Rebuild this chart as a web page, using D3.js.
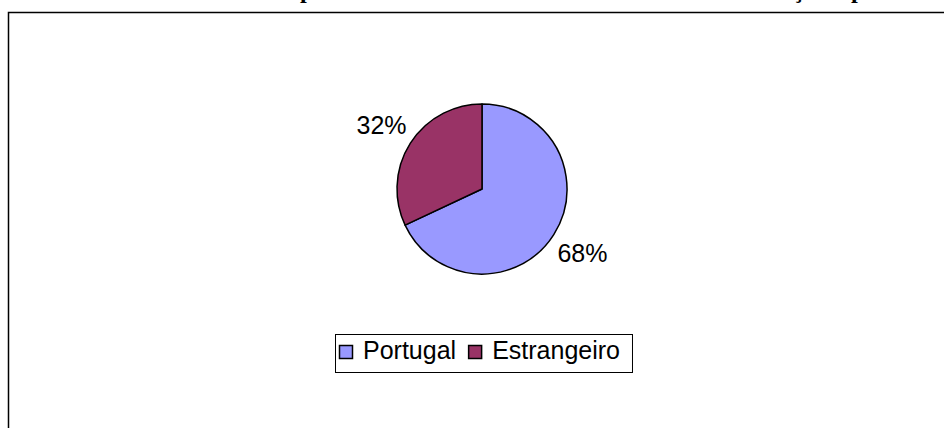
<!DOCTYPE html>
<html>
<head>
<meta charset="utf-8">
<title>Portugal / Estrangeiro</title>
<script src="https://cdn.jsdelivr.net/npm/d3@7"></script>
<style>
  body { margin: 0; background: #fff; }
  svg { display: block; }
  .title { font-family: "Liberation Serif", "Times New Roman", serif; font-weight: bold; }
  .lbl, .legend text { font-family: "Liberation Sans", Arial, sans-serif; font-size: 25px; fill: #000; }
</style>
</head>
<body>
<div id="chart"></div>
<script>
var categories = ['Portugal', 'Estrangeiro'];
var values = [68, 32];
var colors = ['#9999FF', '#993366'];
var titleText = 'Gráfico 4 – Alunos inscritos por local de residência habitual à data da inscrição e país';

var width = 944, height = 428;
var cx = 482, cy = 189, radius = 85;

var svg = d3.select('#chart').append('svg')
    .attr('width', width)
    .attr('height', height);

// clipped title (only the descenders show at the top edge)
var title = svg.append('text')
    .attr('class', 'title')
    .style('font-size', '17px')
    .text(titleText);
var node = title.node();
var iP = titleText.indexOf('por'), iC = titleText.indexOf('ç');
var d0 = node.getSubStringLength(0, iC) - node.getSubStringLength(0, iP);
var fs = 17 * 493 / d0;
title.style('font-size', fs + 'px')
    .attr('y', 3 - 0.217 * fs);
title.attr('x', 300 - node.getSubStringLength(0, iP));

// chart frame
svg.append('rect')
    .attr('x', 8.5).attr('y', 12.5)
    .attr('width', 1000).attr('height', 1000)
    .attr('fill', 'none')
    .attr('stroke', '#000')
    .attr('stroke-width', 1.5);

var pie = d3.pie().sort(null).value(function(d) { return d; });
var arcs = pie(values);
var arc = d3.arc().innerRadius(0).outerRadius(radius);
var labelArc = d3.arc().innerRadius(119).outerRadius(119);

var g = svg.append('g').attr('transform', 'translate(' + cx + ',' + cy + ')');

g.selectAll('path')
    .data(arcs)
    .enter().append('path')
    .attr('d', arc)
    .attr('fill', function(d, i) { return colors[i]; })
    .attr('stroke', '#000')
    .attr('stroke-width', 1.5)
    .attr('stroke-linejoin', 'round');

g.selectAll('.lbl')
    .data(arcs)
    .enter().append('text')
    .attr('class', 'lbl')
    .attr('text-anchor', 'middle')
    .attr('transform', function(d) {
        var c = labelArc.centroid(d);
        return 'translate(' + c[0] + ',' + (c[1] + 9) + ')';
    })
    .text(function(d) { return d.data + '%'; });

// legend
var legend = svg.append('g').attr('class', 'legend');
var box = legend.append('rect')
    .attr('fill', '#fff')
    .attr('stroke', '#000')
    .attr('stroke-width', 1);
var sw = 13, x = 339, baseY = 359;
categories.forEach(function(c, i) {
    legend.append('rect')
        .attr('x', x + 0.5).attr('y', 345.5)
        .attr('width', sw).attr('height', sw)
        .attr('fill', colors[i])
        .attr('stroke', '#000')
        .attr('stroke-width', 1.5);
    var t = legend.append('text')
        .attr('x', x + sw + 11)
        .attr('y', baseY)
        .text(c);
    x = x + sw + 11 + t.node().getComputedTextLength() + 12;
});
box.attr('x', 335.5).attr('y', 334.5)
    .attr('width', x - 335).attr('height', 38);
</script>
</body>
</html>
